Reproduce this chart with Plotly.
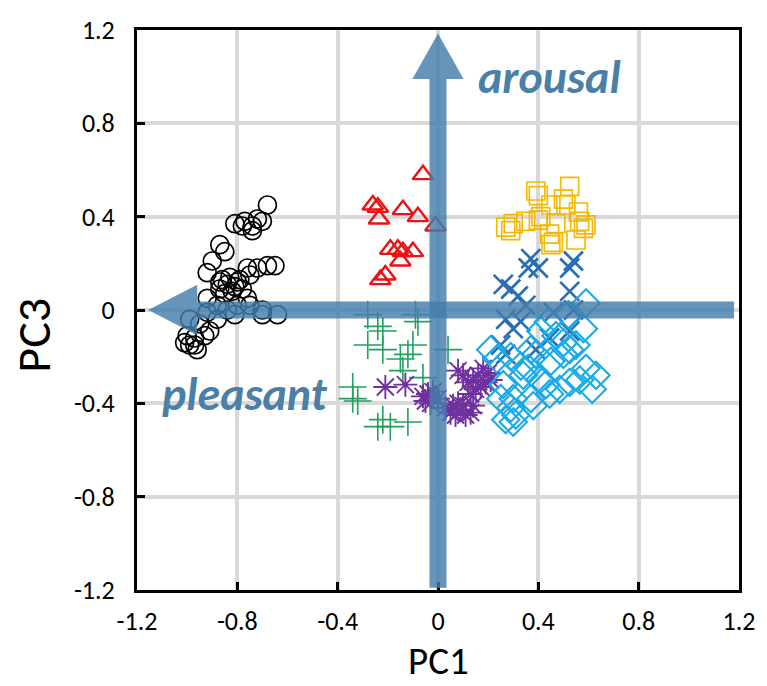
import plotly.graph_objects as go

# --- PCA scores (PC1, PC3) per emotion group ---
black_x = [-0.68, -0.81, -0.77, -0.74, -0.72, -0.70, -0.74, -0.78, -0.87, -0.85, -0.90, -0.92, -0.86,
           -0.76, -0.72, -0.68, -0.65, -0.75, -0.87, -0.84, -0.80, -0.78, -0.82, -0.87, -0.92, -0.76,
           -0.88, -0.84, -0.80, -0.75, -0.70, -0.64, -0.70, -0.92, -0.99, -0.95, -1.00, -0.97, -0.99,
           -0.96, -0.93, -0.91, -1.01, -0.97, -0.88, -0.81, -0.83, -0.81, -0.79, -0.85]
black_y = [0.45, 0.37, 0.38, 0.36, 0.39, 0.38, 0.34, 0.36, 0.28, 0.25, 0.21, 0.16, 0.13,
           0.18, 0.18, 0.19, 0.19, 0.15, 0.12, 0.11, 0.12, 0.09, 0.08, 0.09, 0.05, 0.05,
           0.02, 0.00, 0.02, 0.02, 0.00, -0.02, -0.02, -0.01, -0.04, -0.06, -0.11, -0.12, -0.15,
           -0.17, -0.11, -0.09, -0.14, -0.15, -0.04, -0.02, 0.14, 0.10, 0.13, 0.07]

red_x = [-0.06, -0.26, -0.24, -0.235, -0.14, -0.08, -0.01, -0.19, -0.16, -0.14, -0.10, -0.15, -0.21, -0.23]
red_y = [0.58, 0.45, 0.44, 0.39, 0.43, 0.40, 0.36, 0.26, 0.26, 0.25, 0.25, 0.21, 0.15, 0.13]

green_x = [-0.28, -0.09, -0.08, -0.24, -0.22, -0.28, -0.22, -0.10, -0.12, -0.15, 0.04, -0.14, -0.06,
           -0.34, -0.34, -0.32, -0.22, -0.24, -0.19, -0.12]
green_y = [-0.02, -0.02, -0.05, -0.07, -0.09, -0.15, -0.17, -0.15, -0.19, -0.21, -0.17, -0.26, -0.29,
           -0.33, -0.38, -0.39, -0.47, -0.50, -0.50, -0.48]

purple_x = [-0.21, -0.13, -0.06, -0.05, -0.03, -0.04, 0.00, 0.03, 0.05, 0.07, 0.09, 0.11, 0.13, 0.10,
            0.08, 0.06, 0.12, 0.14, 0.16, 0.18, 0.20, 0.19, 0.17, 0.15, 0.21, 0.14, 0.08, 0.10, -0.02, 0.13]
purple_y = [-0.33, -0.32, -0.37, -0.39, -0.40, -0.36, -0.38, -0.42, -0.44, -0.45, -0.43, -0.45, -0.44, -0.41,
            -0.40, -0.41, -0.31, -0.30, -0.28, -0.25, -0.27, -0.31, -0.33, -0.34, -0.30, -0.41, -0.26, -0.28,
            -0.35, -0.36]

yellow_x = [0.525, 0.39, 0.40, 0.45, 0.50, 0.51, 0.56, 0.41, 0.40, 0.35, 0.30, 0.27, 0.29, 0.47,
            0.565, 0.59, 0.58, 0.445, 0.55, 0.45, 0.46]
yellow_y = [0.53, 0.51, 0.49, 0.45, 0.475, 0.45, 0.42, 0.40, 0.385, 0.38, 0.37, 0.355, 0.34, 0.37,
            0.38, 0.365, 0.35, 0.325, 0.30, 0.28, 0.29]

blue_x = [0.37, 0.40, 0.36, 0.54, 0.525, 0.26, 0.29, 0.32, 0.35, 0.525, 0.54, 0.46, 0.27, 0.33,
          0.30, 0.525, 0.25, 0.27, 0.445, 0.39]
blue_y = [0.22, 0.18, 0.18, 0.21, 0.18, 0.11, 0.09, 0.06, 0.02, 0.08, 0.00, -0.01, -0.04, -0.05,
          -0.08, -0.09, -0.15, -0.19, -0.12, -0.17]

cyan_x = [0.59, 0.52, 0.58, 0.44, 0.41, 0.47, 0.50, 0.55, 0.525, 0.37, 0.39, 0.33, 0.45, 0.50,
          0.21, 0.235, 0.29, 0.59, 0.63, 0.565, 0.525, 0.43, 0.445, 0.485, 0.615, 0.37, 0.38, 0.30,
          0.29, 0.31, 0.30, 0.27, 0.25, 0.34, 0.36, 0.405, 0.26]
cyan_y = [0.03, -0.02, -0.08, -0.05, -0.09, -0.11, -0.14, -0.15, -0.17, -0.17, -0.19, -0.24, -0.22, -0.19,
          -0.17, -0.21, -0.20, -0.25, -0.28, -0.30, -0.31, -0.32, -0.36, -0.34, -0.34, -0.38, -0.41, -0.38,
          -0.42, -0.45, -0.48, -0.47, -0.38, -0.28, -0.25, -0.30, -0.32]

# Direction arrows (data units)
ARROW_COLOR = "rgb(68,126,172)"
SHAFT_HALF_Y = 0.036     # horizontal shaft half-thickness
SHAFT_HALF_X = 0.034     # vertical shaft half-thickness
HEAD_HALF_Y = 0.108
HEAD_HALF_X = 0.102
H_START, H_BASE, H_TIP = 1.18, -0.96, -1.155
V_START, V_BASE, V_TIP = -1.19, 0.99, 1.185

TICKS = [-1.2, -0.8, -0.4, 0, 0.4, 0.8, 1.2]
TICK_TEXT = ["-1.2", "-0.8", "-0.4", "0", "0.4", "0.8", "1.2"]

FONT = "Carlito, Lato, sans-serif"

fig = go.Figure()

def add_group(x, y, symbol, color, size, width):
    fig.add_trace(go.Scatter(
        x=x, y=y, mode="markers",
        marker=dict(symbol=symbol, size=size, color=color,
                    line=dict(color=color, width=width)),
        showlegend=False, hoverinfo="skip"))

add_group(black_x, black_y, "circle-open", "black", 18, 1.7)
add_group(red_x, red_y, "triangle-up-open", "#ee1111", 18, 2.4)
add_group(green_x, green_y, "cross-thin-open", "#22a060", 20, 1.6)
add_group(purple_x, purple_y, "asterisk-open", "#7030a0", 20, 1.9)
add_group(yellow_x, yellow_y, "square-open", "#f5b800", 18, 1.6)
add_group(blue_x, blue_y, "x-thin-open", "#2a6fb2", 19, 2.7)
add_group(cyan_x, cyan_y, "diamond-open", "#1aaae8", 21, 2.1)

h_path = (f"M {H_START},{SHAFT_HALF_Y} L {H_BASE},{SHAFT_HALF_Y} L {H_BASE},{HEAD_HALF_Y} "
          f"L {H_TIP},0 L {H_BASE},{-HEAD_HALF_Y} L {H_BASE},{-SHAFT_HALF_Y} L {H_START},{-SHAFT_HALF_Y} Z")
v_path = (f"M {-SHAFT_HALF_X},{V_START} L {-SHAFT_HALF_X},{V_BASE} L {-HEAD_HALF_X},{V_BASE} "
          f"L 0,{V_TIP} L {HEAD_HALF_X},{V_BASE} L {SHAFT_HALF_X},{V_BASE} L {SHAFT_HALF_X},{V_START} Z")
for p in (h_path, v_path):
    fig.add_shape(type="path", path=p, xref="x", yref="y", fillcolor=ARROW_COLOR,
                  line=dict(width=0), opacity=0.82, layer="above")

fig.add_annotation(x=0.445, y=1.0, text="<b><i>arousal</i></b>", showarrow=False,
                   font=dict(family=FONT, size=46, color="#4a7fa8"))
fig.add_annotation(x=-0.77, y=-0.36, text="<b><i>pleasant</i></b>", showarrow=False,
                   font=dict(family=FONT, size=46, color="#4a7fa8"))

axis_common = dict(
    range=[-1.2, 1.2], tickvals=TICKS, ticktext=TICK_TEXT,
    showgrid=True, gridcolor="#d9d9d9", gridwidth=4, zeroline=False,
    showline=True, mirror=True, linecolor="black", linewidth=3,
    ticks="inside", ticklen=8, tickwidth=3, tickcolor="black",
    tickfont=dict(family=FONT, size=26, color="black"),
)
fig.update_xaxes(**axis_common, ticklabelstandoff=6)
fig.update_yaxes(**axis_common, ticklabelstandoff=14)

fig.add_annotation(x=0.5, y=-0.172, xref="paper", yref="paper", yanchor="bottom",
                   text="PC1", showarrow=False,
                   font=dict(family=FONT, size=39, color="black"))
fig.add_annotation(x=-0.172, y=0.455, xref="paper", yref="paper", xanchor="center",
                   text="PC3", showarrow=False,
                   textangle=-90, font=dict(family=FONT, size=48, color="black"))

fig.update_layout(
    width=767, height=686,
    margin=dict(l=137, r=26, t=30, b=96),
    plot_bgcolor="white", paper_bgcolor="white",
)

fig.write_html("out.html")
